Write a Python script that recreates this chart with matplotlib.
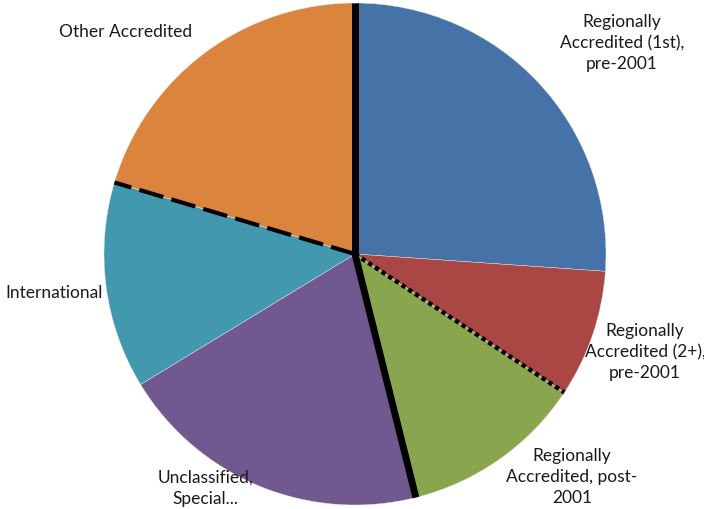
import numpy as np
import matplotlib.pyplot as plt

# slice shares (%), clockwise from 12 o'clock
labels = ["Regionally\nAccredited (1st),\npre-2001",
          "Regionally\nAccredited (2+),\npre-2001",
          "Regionally\nAccredited, post-\n2001",
          "Unclassified,\nSpecial...",
          "International",
          "Other Accredited"]
values = [26.1, 8.2, 11.8, 20.2, 13.3, 20.4]
colors = ["#4572A7", "#AA4643", "#89A54E", "#71588F", "#4198AF", "#DB843D"]

# label anchor positions in pixels (x, y from top)
label_pos = [(622, 43), (645, 352), (572, 477), (205, 488), (54, 293), (126, 32)]

W, H = 704, 510
cx, cy, r = 355, 255, 251

plt.rcParams['font.family'] = ['Lato', 'DejaVu Sans']

fig = plt.figure(figsize=(W / 100, H / 100), dpi=100)
ax = fig.add_axes([0, 0, 1, 1])

ax.pie(values, colors=colors, startangle=90, counterclock=False,
       center=(cx, H - cy), radius=r,
       wedgeprops=dict(edgecolor="#e8e8e8", linewidth=0.3))

# boundary angles
cum = np.concatenate([[0], np.cumsum(values)]) / sum(values)
angles = 90 - 360 * cum

def edge(i, **kw):
    a = np.radians(angles[i])
    ax.plot([cx, cx + r * np.cos(a)], [H - cy, H - cy + r * np.sin(a)],
            color="black", **kw)

edge(0, lw=5, solid_capstyle="butt")
edge(2, lw=3.2, dashes=(1, 0.8), dash_capstyle="butt")
edge(3, lw=5, solid_capstyle="butt")
edge(5, lw=3, dashes=(6, 2), dash_capstyle="butt")

for lab, (x, y) in zip(labels, label_pos):
    ax.text(x, H - y, lab, ha="center", va="center", fontsize=12.5,
            color="#1a1a1a", linespacing=1.4)

ax.set_xlim(0, W)
ax.set_ylim(0, H)
ax.set_aspect("equal")
ax.axis("off")

fig.savefig("out.png", dpi=100)
